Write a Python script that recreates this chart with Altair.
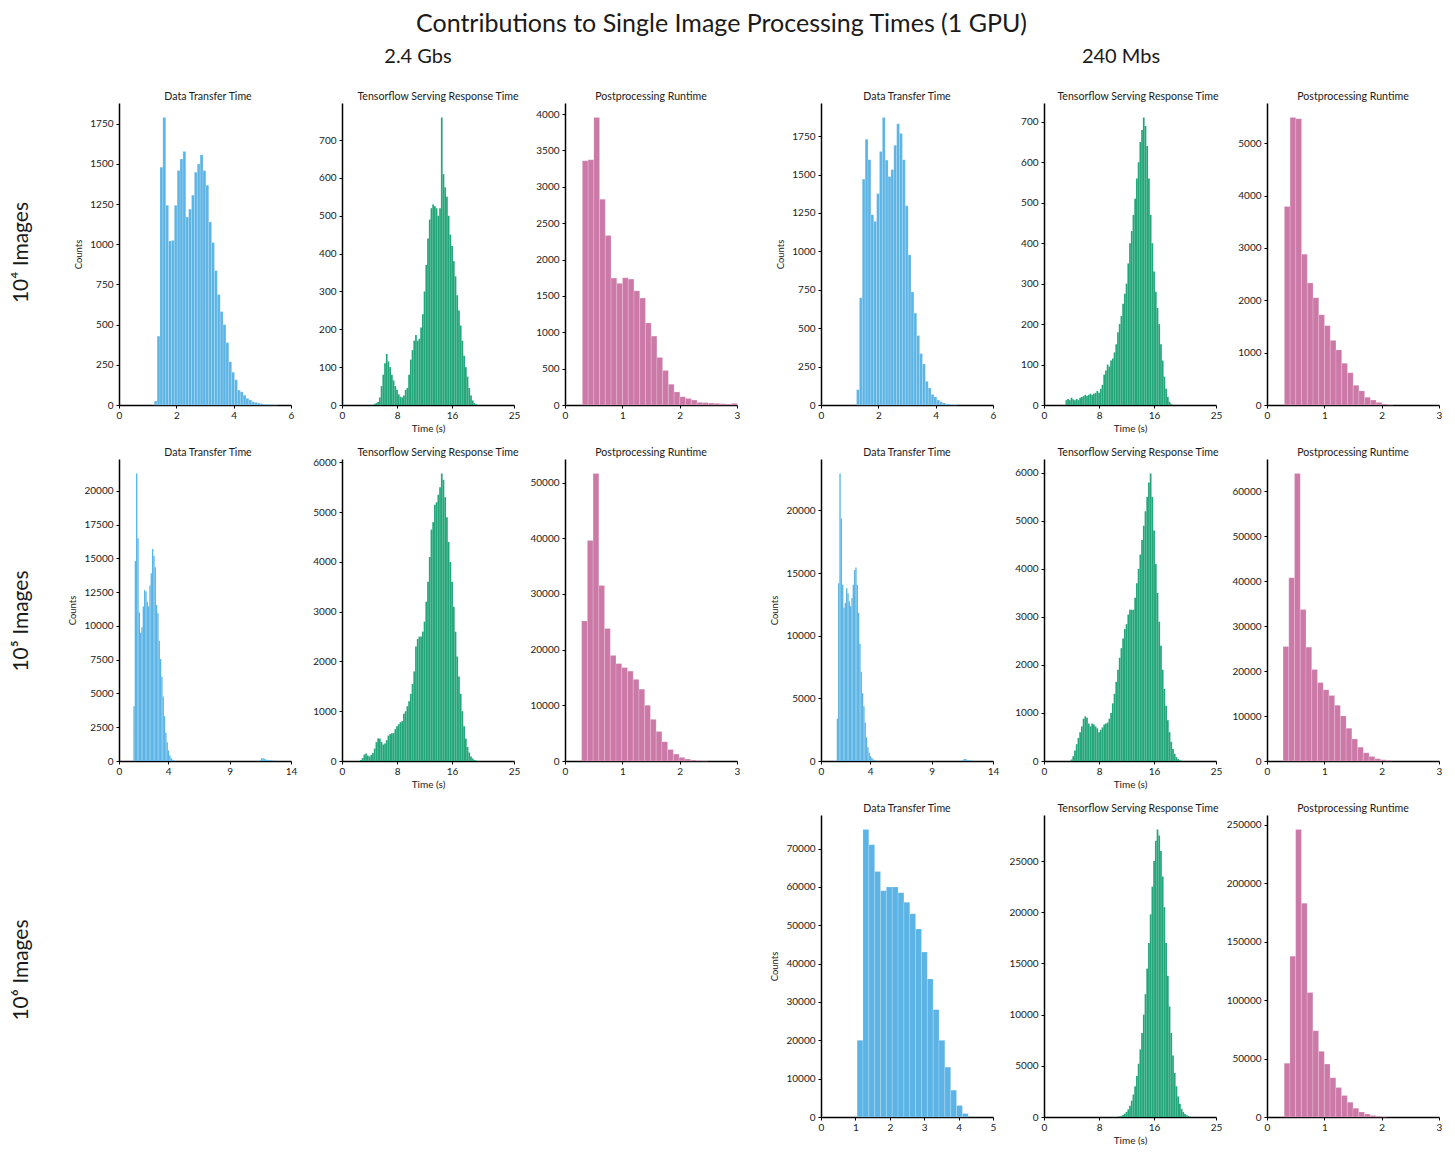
import altair as alt
import pandas as pd

FONT = "Lato"
BLUE = "#5BB4E5"
GREEN = "#23A679"
PINK = "#CC79A8"
INK = "#1a1a1a"

main_title = "Contributions to Single Image Processing Times (1 GPU)"
group_titles = ["2.4 Gbs", "240 Mbs"]
row_labels = ["10⁴ Images", "10⁵ Images", "10⁶ Images"]
panel_titles = ["Data Transfer Time", "Tensorflow Serving Response Time", "Postprocessing Runtime"]

# ---------------- row 1 (10^4 images) ----------------
dt_r1_gbs_start, dt_r1_gbs_width = 1.23, 0.1
dt_r1_gbs = [25, 428, 1479, 1789, 1242, 1020, 1024, 1242, 1458, 1530, 1577, 1169, 1218, 1305,
             1448, 1499, 1556, 1458, 1367, 1138, 1010, 836, 687, 581, 500, 388, 269, 204, 157,
             92, 82, 61, 41, 31, 20, 16, 12, 8, 5, 4, 3, 3, 2]

tf_r1_gbs_start, tf_r1_gbs_width = 4.625, 0.25
tf_r1_gbs = [3, 5, 8, 20, 50, 80, 110, 135, 115, 100, 80, 65, 50, 40, 28, 22, 20, 25, 40, 45,
             80, 120, 145, 170, 185, 170, 175, 205, 240, 300, 370, 440, 490, 520, 530, 525,
             520, 500, 520, 760, 610, 575, 550, 500, 450, 420, 380, 340, 290, 250, 210, 170,
             130, 100, 75, 45, 25, 12, 5, 2]

pp_r1_gbs_start, pp_r1_gbs_width = 0.303, 0.1
pp_r1_gbs = [3359, 3372, 3954, 2827, 2331, 1745, 1673, 1749, 1731, 1569, 1470, 1127, 947, 654,
             474, 284, 180, 113, 90, 68, 36, 32, 27, 23, 18, 14, 23]

dt_r1_mbs_start, dt_r1_mbs_width = 1.24, 0.1
dt_r1_mbs = [100, 698, 1470, 1729, 1596, 1238, 1195, 1376, 1650, 1872, 1594, 1487, 1532, 1690,
             1831, 1767, 1596, 1297, 977, 736, 598, 452, 335, 267, 154, 111, 68, 53, 32, 21,
             13, 8, 6, 4, 2]

tf_r1_mbs_start, tf_r1_mbs_width = 3.125, 0.25
tf_r1_mbs = [12, 15, 12, 18, 14, 12, 15, 12, 18, 20, 22, 25, 22, 25, 28, 25, 28, 30, 35, 30,
             40, 50, 75, 85, 100, 95, 110, 115, 130, 150, 180, 200, 220, 250, 275, 300, 350,
             400, 430, 470, 510, 560, 600, 650, 680, 711, 690, 640, 560, 470, 400, 330, 280,
             240, 200, 150, 110, 70, 40, 20, 8, 3]

pp_r1_mbs_start, pp_r1_mbs_width = 0.303, 0.1
pp_r1_mbs = [3791, 5495, 5470, 2882, 2331, 2049, 1723, 1516, 1234, 1053, 796, 614, 376, 269,
             150, 94, 50, 19, 6]

# ---------------- row 2 (10^5 images) ----------------
dt_r2_gbs_start, dt_r2_gbs_width = 1.17, 0.108
dt_r2_gbs = [4050, 14800, 21300, 16500, 11000, 9500, 9900, 11450, 12650, 12550, 11800, 11450,
             13000, 13900, 15700, 15200, 14350, 11550, 10950, 8900, 7550, 6230, 4780, 3320,
             2100, 1380, 780, 410, 220, 100, 50]
dt_r2_gbs_tail_start = 11.45
dt_r2_gbs_tail = [60, 180, 220, 160, 110, 90, 70, 60, 50, 45, 40, 35]

tf_r2_gbs_start, tf_r2_gbs_width = 2.625, 0.25
tf_r2_gbs = [20, 60, 130, 150, 110, 90, 120, 160, 250, 380, 450, 450, 380, 330, 350, 420, 510,
             540, 560, 560, 640, 700, 740, 780, 800, 950, 1000, 1100, 1200, 1350, 1550, 1800,
             2300, 2450, 2500, 2500, 2600, 2800, 3200, 3600, 4100, 4650, 4800, 5150, 5200,
             5350, 5500, 5780, 5650, 5300, 4900, 4400, 4000, 3600, 3100, 2600, 2100, 1700,
             1350, 1000, 700, 450, 280, 170, 90, 50, 20, 8]

pp_r2_gbs_start, pp_r2_gbs_width = 0.29, 0.1
pp_r2_gbs = [25150, 39580, 51650, 31500, 23800, 18960, 17490, 16780, 16140, 14660, 12900,
             10010, 7480, 5300, 3470, 2060, 1240, 650, 350, 180, 90, 50]

dt_r2_mbs_start, dt_r2_mbs_width = 1.28, 0.108
dt_r2_mbs = [3380, 14190, 22960, 19350, 14060, 12230, 12620, 13800, 13400, 12750, 12360,
             13010, 14060, 15240, 15450, 14060, 11830, 9350, 7120, 5420, 4370, 3060, 1880,
             1100, 650, 390, 240, 130, 80]
dt_r2_mbs_tail_start = 11.5
dt_r2_mbs_tail = [50, 150, 160, 100, 60, 40, 30, 25, 20]

tf_r2_mbs_start, tf_r2_mbs_width = 3.875, 0.25
tf_r2_mbs = [30, 100, 220, 350, 480, 600, 720, 880, 930, 900, 780, 720, 780, 760, 720, 680,
             600, 650, 700, 760, 780, 800, 880, 1000, 1200, 1400, 1650, 1900, 2150, 2350, 2550,
             2750, 2850, 3050, 3150, 3150, 3150, 3400, 3700, 4000, 4300, 4600, 4900, 5200,
             5500, 5800, 5990, 5500, 4800, 4100, 3500, 2900, 2400, 1900, 1500, 1150, 850, 600,
             400, 250, 150, 80, 40, 15, 5]

pp_r2_mbs_start, pp_r2_mbs_width = 0.28, 0.1
pp_r2_mbs = [25470, 40800, 64000, 33700, 25330, 20360, 17450, 15840, 14600, 12400, 10000,
             7300, 4890, 3070, 1820, 1020, 510, 290, 150]

# ---------------- row 3 (10^6 images, 240 Mbs only) ----------------
dt_r3_mbs_start, dt_r3_mbs_width = 1.05, 0.17
dt_r3_mbs = [20000, 75000, 71000, 64000, 59000, 60000, 60000, 58500, 56000, 53000, 49000,
             43000, 36000, 28000, 20000, 13000, 7000, 3000, 900]

tf_r3_mbs_start, tf_r3_mbs_width = 10.625, 0.25
tf_r3_mbs = [30, 60, 110, 190, 320, 500, 750, 1100, 1600, 2200, 3000, 4000, 5200, 6600, 8200,
             10000, 12000, 14500, 17000, 19800, 22500, 25000, 27000, 28100, 27500, 26000,
             23500, 20500, 17000, 13800, 10800, 8200, 6000, 4300, 3000, 2000, 1300, 800, 500,
             300, 170, 90, 40]

pp_r3_mbs_start, pp_r3_mbs_width = 0.3, 0.1
pp_r3_mbs = [46000, 137600, 246100, 182900, 106500, 73800, 56200, 45300, 33600, 25200, 18500,
             12600, 7500, 4200, 2500, 1300, 600, 250]

# ---------------- axis ticks ----------------
ticks_x_dt_r1 = [0, 2, 4, 6]
ticks_x_dt_r2 = [0, 4, 9, 14]
ticks_x_dt_r3 = [0, 1, 2, 3, 4, 5]
ticks_x_tf = [0, 8, 16, 25]
ticks_x_pp = [0, 1, 2, 3]

ticks_y = {
    "p1": list(range(0, 1751, 250)), "p2": list(range(0, 701, 100)),
    "p3": list(range(0, 4001, 500)), "p4": list(range(0, 1751, 250)),
    "p5": list(range(0, 701, 100)), "p6": list(range(0, 5001, 1000)),
    "p7": list(range(0, 20001, 2500)), "p8": list(range(0, 6001, 1000)),
    "p9": list(range(0, 50001, 10000)), "p10": list(range(0, 20001, 5000)),
    "p11": list(range(0, 6001, 1000)), "p12": list(range(0, 60001, 10000)),
    "p13": list(range(0, 70001, 10000)), "p14": list(range(0, 25001, 5000)),
    "p15": list(range(0, 250001, 50000)),
}

# ---------------- layout constants ----------------
W, H = 172, 302          # plot area of one histogram
GAP_EXTRA = 33           # extra room after the third column (between the two groups)
COL0 = 60                # width of the row-label column
COL_SPACING, ROW_SPACING = 51, 54


def bins_df(segments):
    rows = []
    for start, width, counts in segments:
        for i, c in enumerate(counts):
            x0 = start + i * width
            rows.append({"x0": x0, "x1": x0 + width, "c": c, "z": 0})
    return pd.DataFrame(rows)


def text_layer(text, x, y, size, angle=0):
    kw = dict(font=FONT, fontSize=size, color=INK, align="center", baseline="middle")
    if angle:
        kw["angle"] = angle
    return alt.Chart(pd.DataFrame({"t": [text]})).mark_text(**kw).encode(
        x=alt.value(x), y=alt.value(y), text="t:N")


def panel(segments, color, xdom, xticks, yticks, title, ytitle=None, xtitle=None,
          title_dx=0, edges=True, extra_w=0):
    df = bins_df(segments)
    ymax = 1.05 * df["c"].max()
    yaxis_kw = dict(values=yticks, format="d", labelOverlap=False, labelPadding=3)
    if ytitle:
        yaxis_kw.update(title=ytitle, titleFontSize=9.5, titlePadding=6)
    else:
        yaxis_kw.update(title=None)
    xaxis_kw = dict(values=xticks, format="d", labelFlush=False, labelOverlap=False)
    if xtitle:
        xaxis_kw.update(title=xtitle, titleFontSize=10, titlePadding=3)
    else:
        xaxis_kw.update(title=None)
    mark_kw = dict(color=color)
    if edges:
        mark_kw.update(stroke="white", strokeWidth=0.4, strokeOpacity=0.45)
    xscale = alt.Scale(domain=xdom, nice=False, zero=False, range=[0, W])
    bars = alt.Chart(df).mark_rect(**mark_kw).encode(
        x=alt.X("x0:Q", scale=xscale, axis=alt.Axis(**xaxis_kw)),
        x2="x1:Q",
        y=alt.Y("c:Q", scale=alt.Scale(domain=[0, ymax], nice=False),
                axis=alt.Axis(**yaxis_kw)),
        y2="z:Q",
    )
    ttl = text_layer(title, W / 2 + title_dx, -6.5, 10.6)
    return alt.layer(bars, ttl).properties(width=W + extra_w, height=H)


def label_cell(text, dy, extra=()):
    layers = [text_layer(text, 14, H / 2 + dy, 21, angle=270)] + list(extra)
    return alt.layer(*layers).properties(width=COL0, height=H)


def blank(w):
    return alt.Chart(pd.DataFrame({"t": [""]})).mark_text().encode(
        x=alt.value(0), y=alt.value(0), text="t:N").properties(width=w, height=H)


# figure-level texts, placed relative to the first row's plot top
head_texts = [
    text_layer(main_title, 713.5, -79, 25),
    text_layer(group_titles[0], 410, -46, 20),
    text_layer(group_titles[1], 1113, -46, 20),
]

p1 = panel([(dt_r1_gbs_start, dt_r1_gbs_width, dt_r1_gbs)], BLUE, [0, 6], ticks_x_dt_r1,
           ticks_y["p1"], panel_titles[0], ytitle="Counts", title_dx=3)
p2 = panel([(tf_r1_gbs_start, tf_r1_gbs_width, tf_r1_gbs)], GREEN, [0, 25], ticks_x_tf,
           ticks_y["p2"], panel_titles[1], xtitle="Time (s)", title_dx=10, edges=False)
p3 = panel([(pp_r1_gbs_start, pp_r1_gbs_width, pp_r1_gbs)], PINK, [0, 3], ticks_x_pp,
           ticks_y["p3"], panel_titles[2], extra_w=GAP_EXTRA)
p4 = panel([(dt_r1_mbs_start, dt_r1_mbs_width, dt_r1_mbs)], BLUE, [0, 6], ticks_x_dt_r1,
           ticks_y["p4"], panel_titles[0], ytitle="Counts")
p5 = panel([(tf_r1_mbs_start, tf_r1_mbs_width, tf_r1_mbs)], GREEN, [0, 25], ticks_x_tf,
           ticks_y["p5"], panel_titles[1], xtitle="Time (s)", title_dx=8, edges=False)
p6 = panel([(pp_r1_mbs_start, pp_r1_mbs_width, pp_r1_mbs)], PINK, [0, 3], ticks_x_pp,
           ticks_y["p6"], panel_titles[2])

p7 = panel([(dt_r2_gbs_start, dt_r2_gbs_width, dt_r2_gbs),
            (dt_r2_gbs_tail_start, dt_r2_gbs_width, dt_r2_gbs_tail)], BLUE, [0, 14],
           ticks_x_dt_r2, ticks_y["p7"], panel_titles[0], ytitle="Counts", title_dx=3,
           edges=False)
p8 = panel([(tf_r2_gbs_start, tf_r2_gbs_width, tf_r2_gbs)], GREEN, [0, 25], ticks_x_tf,
           ticks_y["p8"], panel_titles[1], xtitle="Time (s)", title_dx=10, edges=False)
p9 = panel([(pp_r2_gbs_start, pp_r2_gbs_width, pp_r2_gbs)], PINK, [0, 3], ticks_x_pp,
           ticks_y["p9"], panel_titles[2], extra_w=GAP_EXTRA)
p10 = panel([(dt_r2_mbs_start, dt_r2_mbs_width, dt_r2_mbs),
             (dt_r2_mbs_tail_start, dt_r2_mbs_width, dt_r2_mbs_tail)], BLUE, [0, 14],
            ticks_x_dt_r2, ticks_y["p10"], panel_titles[0], ytitle="Counts", edges=False)
p11 = panel([(tf_r2_mbs_start, tf_r2_mbs_width, tf_r2_mbs)], GREEN, [0, 25], ticks_x_tf,
            ticks_y["p11"], panel_titles[1], xtitle="Time (s)", title_dx=8, edges=False)
p12 = panel([(pp_r2_mbs_start, pp_r2_mbs_width, pp_r2_mbs)], PINK, [0, 3], ticks_x_pp,
            ticks_y["p12"], panel_titles[2])

p13 = panel([(dt_r3_mbs_start, dt_r3_mbs_width, dt_r3_mbs)], BLUE, [0, 5], ticks_x_dt_r3,
            ticks_y["p13"], panel_titles[0], ytitle="Counts")
p14 = panel([(tf_r3_mbs_start, tf_r3_mbs_width, tf_r3_mbs)], GREEN, [0, 25], ticks_x_tf,
            ticks_y["p14"], panel_titles[1], xtitle="Time (s)", title_dx=8, edges=False)
p15 = panel([(pp_r3_mbs_start, pp_r3_mbs_width, pp_r3_mbs)], PINK, [0, 3], ticks_x_pp,
            ticks_y["p15"], panel_titles[2])

cells = [
    label_cell(row_labels[0], -1.5, head_texts), p1, p2, p3, p4, p5, p6,
    label_cell(row_labels[1], 11), p7, p8, p9, p10, p11, p12,
    label_cell(row_labels[2], 4), blank(W), blank(W), blank(W + GAP_EXTRA), p13, p14, p15,
]

chart = alt.concat(
    *cells,
    columns=7,
    spacing={"row": ROW_SPACING, "column": COL_SPACING},
    align="each",
    bounds="flush",
).properties(
    padding={"left": 0, "top": 4, "right": 5, "bottom": 0}
).configure_view(
    stroke=None
).configure_axis(
    grid=False,
    domainColor="black",
    domainWidth=1.5,
    tickColor="black",
    tickWidth=1,
    tickSize=3,
    labelFont=FONT,
    labelFontSize=10,
    labelColor=INK,
    labelPadding=2,
    titleFont=FONT,
    titleFontWeight="normal",
    titleColor=INK,
)

chart.save("out.html", embed_options={"renderer": "svg", "actions": False})
